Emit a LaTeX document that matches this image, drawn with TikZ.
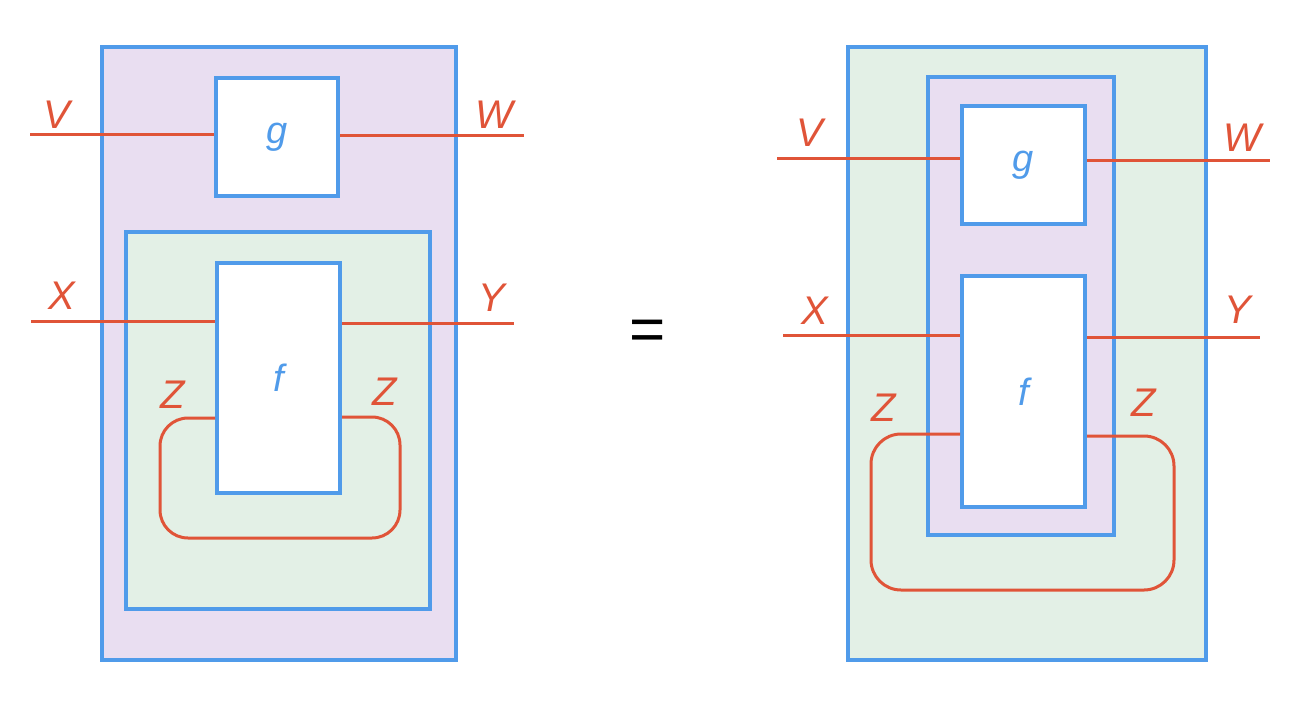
\documentclass[tikz,border=0pt]{standalone}
\usepackage{fontspec}
\setmainfont{Liberation Sans}
\definecolor{bblue}{RGB}{80,155,234}
\definecolor{wred}{RGB}{224,84,56}
\definecolor{pfill}{RGB}{233,222,241}
\definecolor{gfill}{RGB}{227,240,230}
\tikzset{
  frame/.style={draw=bblue, line width=4pt, inner sep=0pt, outer sep=0pt, anchor=north west},
  mbox/.style={draw=bblue, line width=4pt, fill=white, inner sep=0pt, text=bblue, font=\fontsize{38}{42}\selectfont\itshape},
  wire/.style={draw=wred, line width=3pt},
  lbl/.style={text=wred, font=\fontsize{40}{44}\selectfont\itshape, inner sep=0pt},
}
\begin{document}
\begin{tikzpicture}[x=1pt,y=-1pt]
\useasboundingbox (0,0) rectangle (1312,713);
% ---------- left diagram ----------
\node[frame, fill=pfill, minimum width=354pt, minimum height=613pt] (Lout) at (102,47) {};
\node[frame, fill=gfill, minimum width=304pt, minimum height=377pt] (Lin) at (126,232) {};
\node[mbox, minimum width=122pt, minimum height=118pt] (Lg) at (277,137) {g};
\node[mbox, minimum width=123pt, minimum height=230pt] (Lf) at (278.5,378) {f};
\coordinate (LV) at (30,134);
\coordinate (LW) at (524,135);
\coordinate (LX) at (31,321);
\coordinate (LY) at (514,323);
\draw[wire] (LV) -- (LV -| Lg.west);
\draw[wire] (LW -| Lg.east) -- (LW);
\draw[wire] (LX) -- (LX -| Lf.west);
\draw[wire] (LY -| Lf.east) -- (LY);
\coordinate (LZa) at (217,418);
\coordinate (LZb) at (340,417);
\draw[wire, rounded corners=28pt] (LZa -| Lf.west) -- (160,418) -- (160,538) -- (400,538) -- (400,417) -- (LZb -| Lf.east);
\node[lbl] (lV) at (57,115) {V};
\node[lbl] (lW) at (494,115) {W};
\node[lbl] (lX) at (62,296) {X};
\node[lbl] (lY) at (492,298) {Y};
\node[lbl] (lZ1) at (173,395) {Z};
\node[lbl] (lZ2) at (385,392) {Z};
% ---------- equals ----------
\node[font=\fontsize{62}{66}\selectfont, inner sep=0pt] (eq) at (648,335) {=};
% ---------- right diagram ----------
\node[frame, fill=gfill, minimum width=358pt, minimum height=613pt] (Rout) at (848,47) {};
\node[frame, fill=pfill, minimum width=186pt, minimum height=458pt] (Rin) at (928,77) {};
\node[mbox, minimum width=123pt, minimum height=118pt] (Rg) at (1023.5,165) {g};
\node[mbox, minimum width=123pt, minimum height=231pt] (Rf) at (1023.5,391.5) {f};
\coordinate (RV) at (777,158);
\coordinate (RW) at (1270,160);
\coordinate (RX) at (783,335);
\coordinate (RY) at (1260,337);
\draw[wire] (RV) -- (RV -| Rg.west);
\draw[wire] (RW -| Rg.east) -- (RW);
\draw[wire] (RX) -- (RX -| Rf.west);
\draw[wire] (RY -| Rf.east) -- (RY);
\coordinate (RZa) at (962,434);
\coordinate (RZb) at (1085,436);
\draw[wire, rounded corners=30pt] (RZa -| Rf.west) -- (871,434) -- (871,590) -- (1174,590) -- (1174,436) -- (RZb -| Rf.east);
\node[lbl] (rV) at (810,133) {V};
\node[lbl] (rW) at (1242,138) {W};
\node[lbl] (rX) at (815,311) {X};
\node[lbl] (rY) at (1238,310) {Y};
\node[lbl] (rZ1) at (884,408) {Z};
\node[lbl] (rZ2) at (1144,403) {Z};
\end{tikzpicture}
\end{document}
